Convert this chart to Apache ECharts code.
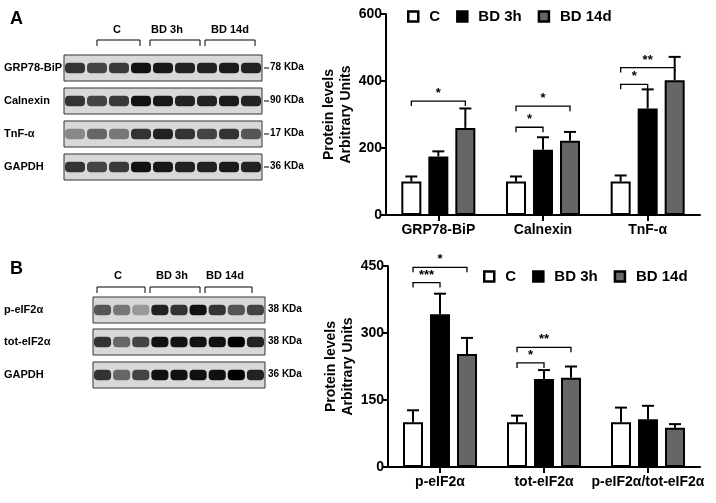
<!DOCTYPE html><html><head><meta charset="utf-8">
<script src="https://cdn.jsdelivr.net/npm/echarts@6/dist/echarts.min.js"></script>
<style>html,body{margin:0;padding:0;background:#fff}#c{width:716px;height:503px}</style></head><body><div id="c"></div>
<script>
const seriesNames=['C','BD 3h','BD 14d'];
const catsA=['GRP78-BiP','Calnexin','TnF-α'];
const A_C=[100,100,100], A_C_err=[115,115,118];
const A_3h=[175,195,318], A_3h_err=[190,232,375];
const A_14d=[260,222,402], A_14d_err=[318,248,472];
const sigA=[[0,0,2,340,'*'],[1,0,1,262,'*'],[1,0,2,325,'*'],[2,0,1,390,'*'],[2,0,2,440,'**']];
const catsB=['p-eIF2α','tot-eIF2α','p-eIF2α/tot-eIF2α'];
const B_C=[100,100,100], B_C_err=[127,115,133];
const B_3h=[342,197,107], B_3h_err=[388,217,137];
const B_14d=[253,200,88], B_14d_err=[289,225,96];
const sigB=[[0,0,1,413,'***'],[0,0,2,447,'*'],[1,0,1,233,'*'],[1,0,2,268,'**']];
const ticksA=[0,200,400,600], ticksB=[0,150,300,450];

const chart=echarts.init(document.getElementById('c'));
const colors=['#fff','#000','#666'];
const OFF=27;
function bars(vals,g){return vals.map((v,i)=>({name:seriesNames[i],type:'bar',xAxisIndex:g,yAxisIndex:g,data:v,barWidth:20,barGap:'35%',
  itemStyle:{color:colors[i],borderColor:'#000',borderWidth:2},z:3}));}
function errs(errArr,vals,g){return errArr.map((e,si)=>({type:'custom',xAxisIndex:g,yAxisIndex:g,z:2,
  data:e.map((v,i)=>[i,vals[si][i],v]),
  renderItem:(p,api)=>{const b=api.coord([api.value(0),api.value(1)]);const t=api.coord([api.value(0),api.value(2)]);const x=b[0]+(si-1)*OFF;
   return {type:'group',children:[{type:'line',shape:{x1:x,y1:b[1],x2:x,y2:t[1]},style:{stroke:'#000',lineWidth:2}},
    {type:'line',shape:{x1:x-6,y1:t[1],x2:x+6,y2:t[1]},style:{stroke:'#000',lineWidth:2}}]};}}));}
function sig(s,g){return {type:'custom',xAxisIndex:g,yAxisIndex:g,z:4,data:s,
  renderItem:(p,api)=>{const d=s[p.dataIndex];const c=api.coord([d[0],d[3]]);const x1=c[0]+(d[1]-1)*OFF,x2=c[0]+(d[2]-1)*OFF,y=c[1];
   return {type:'group',children:[{type:'polyline',shape:{points:[[x1,y+5],[x1,y],[x2,y],[x2,y+5]]},style:{stroke:'#000',fill:'none',lineWidth:1.3}},
    {type:'text',style:{text:d[4],x:(x1+x2)/2,y:y-1,textAlign:'center',textVerticalAlign:'bottom',font:'bold 13px Arial',fill:'#000'}}]};}};}
function yAx(g,t){return {gridIndex:g,type:'value',min:0,max:t[3],interval:t[1],name:'Protein levels\nArbitrary Units',nameLocation:'middle',nameGap:30,
  nameTextStyle:{fontSize:14,fontWeight:'bold',fontFamily:'Arial',lineHeight:17,color:'#000'},
  axisLine:{show:true,lineStyle:{color:'#000',width:2}},axisTick:{show:true,length:5,lineStyle:{width:2,color:'#000'}},splitLine:{show:false},
  axisLabel:{fontSize:14,fontWeight:'bold',color:'#000',fontFamily:'Arial',margin:4}};}
function xAx(g,c){return {gridIndex:g,type:'category',data:c,axisLine:{lineStyle:{color:'#000',width:2}},axisTick:{show:true,alignWithLabel:true,length:6,lineStyle:{width:2,color:'#000'}},
  axisLabel:{fontSize:14,fontWeight:'bold',color:'#000',fontFamily:'Arial',margin:8,interval:0}};}

const gr=[];
function txt(t,x,y,opt){gr.push(Object.assign({type:'text',style:Object.assign({text:t,x:x,y:y,font:'bold 11px Arial',fill:'#000'},opt||{})}));}
function blot(x,y,w,h,n,dark){gr.push({type:'rect',shape:{x:x,y:y,width:w,height:h},style:{fill:'#d8d8d8',stroke:'#333',lineWidth:1}});
  const bw=w/n;for(let i=0;i<n;i++){gr.push({type:'rect',shape:{x:x+i*bw+1,y:y+h*0.3,width:bw-2,height:h*0.4,r:4},style:{fill:dark[i%dark.length]}});}}
txt('A',10,10,{font:'bold 18px Arial'});txt('B',10,260,{font:'bold 18px Arial'});
[['C',117,97,140],['BD 3h',167,150,200],['BD 14d',230,205,255]].forEach(h=>{txt(h[0],h[1],24,{textAlign:'center'});
  gr.push({type:'polyline',shape:{points:[[h[2],46],[h[2],40],[h[3],40],[h[3],46]]},style:{stroke:'#000',fill:'none'}});});
[['GRP78-BiP',55,'78 KDa'],['Calnexin',88,'90 KDa'],['TnF-α',121,'17 KDa'],['GAPDH',154,'36 KDa']].forEach((r,k)=>{
  txt(r[0],4,r[1]+7);txt(r[2],270,r[1]+7,{font:'bold 10px Arial'});
  gr.push({type:'line',shape:{x1:264,y1:r[1]+13,x2:269,y2:r[1]+13},style:{stroke:'#000'}});
  blot(64,r[1],198,26,9,k==2?['#888','#666','#777','#333','#222','#333','#444','#333','#555']:['#333','#444','#3a3a3a','#111','#181818','#222','#222','#1a1a1a','#222']);});
[['C',118,97,145],['BD 3h',172,150,200],['BD 14d',225,205,252]].forEach(h=>{txt(h[0],h[1],270,{textAlign:'center'});
  gr.push({type:'polyline',shape:{points:[[h[2],293],[h[2],287],[h[3],287],[h[3],293]]},style:{stroke:'#000',fill:'none'}});});
[['p-eIF2α',297],['tot-eIF2α',329],['GAPDH',362]].forEach((r,k)=>{
  txt(r[0],4,r[1]+7);txt(k==2?'36 KDa':'38 KDa',268,r[1]+7,{font:'bold 10px Arial'});
  blot(93,r[1],172,26,9,k==0?['#555','#777','#999','#222','#333','#111','#333','#555','#444']:['#333','#666','#444','#111','#111','#111','#111','#000','#222']);});

const leg=(top,left)=>({data:seriesNames.map((n,i)=>({name:n,icon:'rect',itemStyle:{color:colors[i],borderColor:'#000',borderWidth:2.5}})),top:top,left:left,itemWidth:10,itemHeight:10,itemGap:16,
   textStyle:{fontSize:15,fontWeight:'bold',fontFamily:'Arial',color:'#000',padding:[0,0,0,6]}});
chart.setOption({animation:false,
 grid:[{left:386,right:16,top:14,bottom:288},{left:388,right:16,top:266,bottom:36}],
 legend:[leg(4,402),leg(264,478)],
 xAxis:[xAx(0,catsA),xAx(1,catsB)],yAxis:[yAx(0,ticksA),yAx(1,ticksB)],
 series:[...bars([A_C,A_3h,A_14d],0),...errs([A_C_err,A_3h_err,A_14d_err],[A_C,A_3h,A_14d],0),sig(sigA,0),
   ...bars([B_C,B_3h,B_14d],1),...errs([B_C_err,B_3h_err,B_14d_err],[B_C,B_3h,B_14d],1),sig(sigB,1)],
 graphic:gr});
</script></body></html>
